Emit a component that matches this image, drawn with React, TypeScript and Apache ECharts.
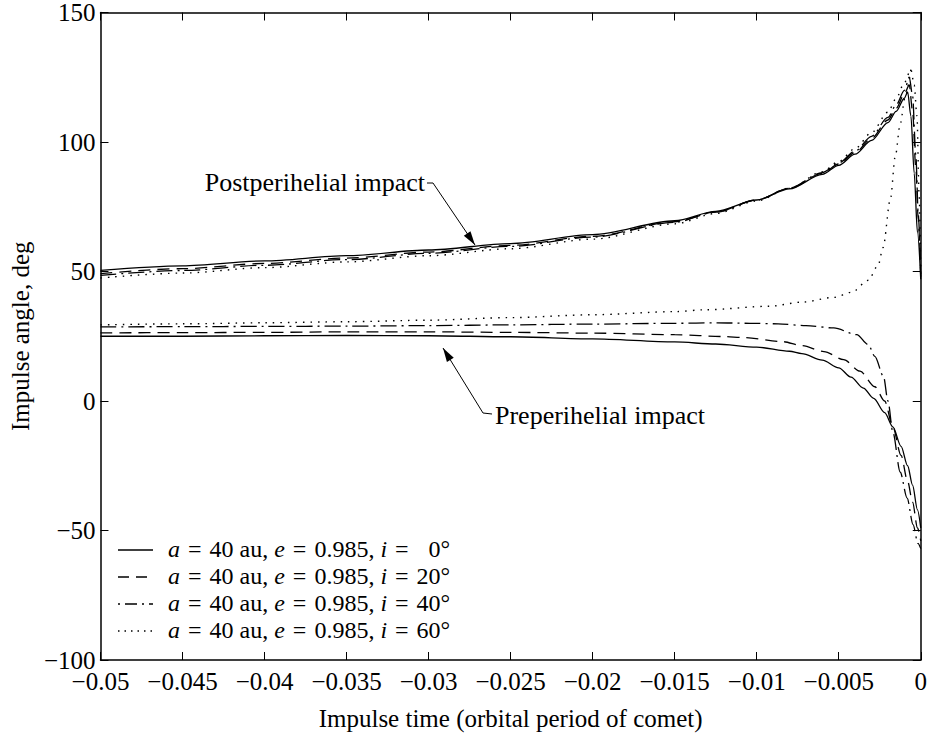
import React, { useEffect, useRef } from "react";
import * as echarts from "echarts";

const FONT = '"Liberation Serif", "Times New Roman", serif';

const inclinations = [0, 20, 40, 60];
const seriesNames = inclinations.map((i) => `a = 40 au, e = 0.985, i = ${i}°`);

// Postperihelial impact curves (upper family)
const postX_i0 = [-0.05, -0.045, -0.04, -0.035, -0.03, -0.025, -0.02, -0.015, -0.0125, -0.01, -0.008, -0.006, -0.005, -0.004, -0.003, -0.002, -0.0015, -0.001, -0.0008, -0.0006, -0.0004, -0.0002, 0];
const postY_i0 = [50.4, 52.2, 54.1, 56.1, 58.3, 60.8, 64.2, 69.6, 73.2, 77.6, 81.9, 87.5, 91.0, 95.3, 100.6, 107.5, 111.8, 116.9, 119.3, 110, 88, 65, 47];

const postX_i20 = [-0.05, -0.045, -0.04, -0.035, -0.03, -0.025, -0.02, -0.015, -0.0125, -0.01, -0.008, -0.006, -0.005, -0.004, -0.003, -0.002, -0.0015, -0.001, -0.0007, -0.0005, -0.0003, -0.00015, 0];
const postY_i20 = [49.2, 51.1, 53.1, 55.2, 57.5, 60.1, 63.6, 69.2, 73.0, 77.6, 82.1, 87.9, 91.5, 95.9, 101.4, 108.5, 113.0, 118.5, 122, 112, 90, 70, 48];

const postX_i40 = [-0.05, -0.045, -0.04, -0.035, -0.03, -0.025, -0.02, -0.015, -0.0125, -0.01, -0.008, -0.006, -0.005, -0.004, -0.003, -0.002, -0.0015, -0.001, -0.0007, -0.0005, -0.0003, -0.00015, 0];
const postY_i40 = [48.5, 50.4, 52.4, 54.6, 57.0, 59.7, 63.3, 69.0, 72.9, 77.6, 82.2, 88.2, 91.9, 96.5, 102.2, 109.5, 114.3, 119.9, 125, 118, 95, 72, 49];

const postX_i60 = [-0.05, -0.045, -0.04, -0.035, -0.03, -0.025, -0.02, -0.015, -0.0125, -0.01, -0.008, -0.006, -0.005, -0.004, -0.003, -0.002, -0.0015, -0.001, -0.0006, -0.0004, -0.00023, -0.0001, 0];
const postY_i60 = [47.5, 49.4, 51.5, 53.7, 56.1, 58.8, 62.5, 68.4, 72.4, 77.2, 82.1, 88.5, 92.5, 97.5, 103.6, 111.5, 116.8, 122.9, 128, 122, 110, 80, 50];

// Preperihelial impact curves (lower family)
const preX_i0 = [-0.05, -0.045, -0.04, -0.035, -0.03, -0.025, -0.02, -0.015, -0.0125, -0.01, -0.008, -0.00725, -0.006, -0.005, -0.00425, -0.0035, -0.00287, -0.0022, -0.0017, -0.0012, -0.0008, -0.0005, -0.0002, 0];
const preY_i0 = [25, 25, 25.2, 25.3, 25.2, 24.8, 24, 22.8, 22, 20.8, 19.2, 18.3, 15.8, 12.8, 9.2, 5, 1, -4.5, -10, -17.5, -25, -32.5, -42, -49];

const preX_i20 = [-0.05, -0.045, -0.04, -0.035, -0.03, -0.025, -0.02, -0.015, -0.012, -0.0108, -0.0084, -0.00725, -0.0059, -0.0047, -0.0037, -0.0028, -0.0022, -0.0017, -0.0012, -0.0008, -0.0005, -0.0002, 0];
const preY_i20 = [26.3, 26.4, 26.5, 26.7, 26.7, 26.5, 26.2, 25.6, 24.9, 24.5, 22.9, 21.4, 19.1, 16, 11.5, 5.5, 0, -10, -21, -31, -39, -49, -54];

const preX_i40 = [-0.05, -0.045, -0.04, -0.035, -0.03, -0.025, -0.02, -0.015, -0.0124, -0.0104, -0.0087, -0.007, -0.0053, -0.0039, -0.0032, -0.0028, -0.00227, -0.002, -0.0017, -0.00125, -0.00083, -0.00047, -0.00017, 0];
const preY_i40 = [28.6, 28.7, 28.8, 28.9, 29.1, 29.4, 29.7, 30, 30.2, 30, 29.8, 29.1, 28.2, 25.6, 21.8, 17.2, 9.5, 0, -12, -27.5, -37.5, -47.7, -55, -57];

const preX_i60 = [-0.05, -0.045, -0.04, -0.035, -0.03, -0.025, -0.02, -0.015, -0.0132, -0.0092, -0.0072, -0.0053, -0.0042, -0.0032, -0.0026, -0.0023, -0.00185, -0.00155, -0.00125, -0.00095, -0.0006];
const preY_i60 = [29.4, 29.8, 30.2, 30.6, 31.2, 32.2, 33.3, 34.5, 35.2, 36.6, 38.2, 40, 42, 46.6, 52.3, 59.2, 78, 94.6, 107, 117.5, 128];

const postCurves = [
  [postX_i0, postY_i0],
  [postX_i20, postY_i20],
  [postX_i40, postY_i40],
  [postX_i60, postY_i60],
];
const preCurves = [
  [preX_i0, preY_i0],
  [preX_i20, preY_i20],
  [preX_i40, preY_i40],
  [preX_i60, preY_i60],
];

const xMin = -0.05;
const xMax = 0;
const xInterval = 0.005;
const yMin = -100;
const yMax = 150;
const yInterval = 50;

const lineTypes: any[] = ["solid", [12, 7], [16, 5, 2, 5], [1.5, 6]];
const lineDashes: any[] = [null, [11, 7], [2, 5, 12, 5], [1.5, 5]];
const lineWidths = [1.3, 1.3, 1.3, 1.4];

const fmtNum = (v: number) => {
  const r = Math.round(v * 10000) / 10000;
  if (r === 0) return "0";
  return (r < 0 ? "\u2212" : "") + String(Math.abs(r));
};

const EQ = "\u2004=\u2004";
const legendRich = (inc: number) => {
  const incText = inc < 10 ? "\u2002" + inc : String(inc);
  return `{it|a}${EQ}40 au, {it|e}${EQ}0.985, {it|i}${EQ}${incText}°`;
};

export default function App() {
  const ref = useRef<HTMLDivElement>(null);

  useEffect(() => {
    if (!ref.current) return;
    const chart = echarts.init(ref.current, undefined, { renderer: "svg" });

    const series: any[] = [];
    inclinations.forEach((_, k) => {
      const mk = (curve: number[][]) => ({
        type: "line",
        name: seriesNames[k],
        data: curve[0].map((x, j) => [x, curve[1][j]]),
        showSymbol: false,
        symbol: "none",
        smooth: 0.3,
        smoothMonotone: "x",
        lineStyle: { color: "#000", width: lineWidths[k], type: lineTypes[k] },
        itemStyle: { color: "#000" },
        clip: true,
      });
      series.push(mk(postCurves[k]));
      series.push(mk(preCurves[k]));
    });

    const axisLineStyle = { color: "#000", width: 1.5 };
    const tickStyle = { color: "#000", width: 1 };
    const labelStyle = { color: "#000", fontSize: 25, fontFamily: FONT };

    const arrowHead = (tip: number[], from: number[], len = 14, half = 4) => {
      const dx = tip[0] - from[0];
      const dy = tip[1] - from[1];
      const L = Math.sqrt(dx * dx + dy * dy);
      const ux = dx / L;
      const uy = dy / L;
      const bx = tip[0] - ux * len;
      const by = tip[1] - uy * len;
      return {
        type: "polygon",
        shape: {
          points: [
            [tip[0], tip[1]],
            [bx - uy * half, by + ux * half],
            [bx + uy * half, by - ux * half],
          ],
        },
        style: { fill: "#000" },
        silent: true,
      };
    };

    const postTip = [475, 245];
    const postFrom = [433, 183];
    const preTip = [443, 348];
    const preFrom = [483, 413];

    // Legend, drawn as graphic elements
    const legendLeft = 118;
    const legendLineW = 35;
    const legendTextX = 168;
    const legendTop = 549;
    const legendStep = 27;
    const legendFont = 24;
    const legendEls: any[] = [];
    inclinations.forEach((inc, k) => {
      const y = legendTop + k * legendStep;
      legendEls.push({
        type: "line",
        shape: { x1: legendLeft, y1: y + 1, x2: legendLeft + legendLineW, y2: y + 1 },
        style: {
          stroke: "#000",
          lineWidth: lineWidths[k],
          lineDash: lineDashes[k] || undefined,
        },
        silent: true,
      });
      legendEls.push({
        type: "text",
        x: legendTextX,
        y: y,
        style: {
          text: legendRich(inc),
          font: `${legendFont}px ${FONT}`,
          fill: "#000",
          lineHeight: 22,
          align: "left",
          verticalAlign: "middle",
          textAlign: "left",
          textVerticalAlign: "middle",
          rich: {
            it: { fontStyle: "italic", fontSize: legendFont, fontFamily: FONT, fill: "#000", lineHeight: 22 },
          },
        },
        silent: true,
      });
    });

    const option: any = {
      animation: false,
      backgroundColor: "#fff",
      grid: { left: 87, right: 9, top: 12, bottom: 68, containLabel: false },
      xAxis: [
        {
          type: "value",
          position: "bottom",
          min: xMin,
          max: xMax,
          interval: xInterval,
          name: "Impulse time (orbital period of comet)",
          nameLocation: "middle",
          nameGap: 46,
          nameTextStyle: { color: "#000", fontSize: 25, fontFamily: FONT },
          axisLine: { show: true, onZero: false, lineStyle: axisLineStyle },
          axisTick: { show: true, inside: true, length: 8, lineStyle: tickStyle },
          axisLabel: { ...labelStyle, margin: 9, formatter: fmtNum },
          splitLine: { show: false },
        },
        {
          type: "value",
          position: "top",
          min: xMin,
          max: xMax,
          interval: xInterval,
          axisLine: { show: true, onZero: false, lineStyle: axisLineStyle },
          axisTick: { show: true, inside: true, length: 8, lineStyle: tickStyle },
          axisLabel: { show: false },
          splitLine: { show: false },
        },
      ],
      yAxis: [
        {
          type: "value",
          position: "left",
          min: yMin,
          max: yMax,
          interval: yInterval,
          name: "Impulse angle, deg",
          nameLocation: "middle",
          nameGap: 53,
          nameTextStyle: { color: "#000", fontSize: 25, fontFamily: FONT },
          axisLine: { show: true, onZero: false, lineStyle: axisLineStyle },
          axisTick: { show: true, inside: true, length: 8, lineStyle: tickStyle },
          axisLabel: { ...labelStyle, margin: 5, formatter: fmtNum },
          splitLine: { show: false },
        },
        {
          type: "value",
          position: "right",
          min: yMin,
          max: yMax,
          interval: yInterval,
          axisLine: { show: true, onZero: false, lineStyle: axisLineStyle },
          axisTick: { show: true, inside: true, length: 8, lineStyle: tickStyle },
          axisLabel: { show: false },
          splitLine: { show: false },
        },
      ],
      graphic: [
        {
          type: "text",
          x: 425,
          y: 182,
          style: {
            text: "Postperihelial impact",
            font: `26px ${FONT}`,
            fill: "#000",
            align: "right",
            verticalAlign: "middle",
            textAlign: "right",
            textVerticalAlign: "middle",
          },
          silent: true,
        },
        {
          type: "line",
          shape: { x1: 427, y1: 183, x2: postFrom[0], y2: postFrom[1] },
          style: { stroke: "#000", lineWidth: 1 },
          silent: true,
        },
        {
          type: "line",
          shape: { x1: postFrom[0], y1: postFrom[1], x2: postTip[0], y2: postTip[1] },
          style: { stroke: "#000", lineWidth: 1 },
          silent: true,
        },
        arrowHead(postTip, postFrom),
        {
          type: "text",
          x: 495,
          y: 415,
          style: {
            text: "Preperihelial impact",
            font: `26px ${FONT}`,
            fill: "#000",
            align: "left",
            verticalAlign: "middle",
            textAlign: "left",
            textVerticalAlign: "middle",
          },
          silent: true,
        },
        {
          type: "line",
          shape: { x1: 492, y1: 414, x2: preFrom[0], y2: preFrom[1] },
          style: { stroke: "#000", lineWidth: 1 },
          silent: true,
        },
        {
          type: "line",
          shape: { x1: preFrom[0], y1: preFrom[1], x2: preTip[0], y2: preTip[1] },
          style: { stroke: "#000", lineWidth: 1 },
          silent: true,
        },
        arrowHead(preTip, preFrom),
        ...legendEls,
      ],
      series,
    };

    chart.setOption(option);
    return () => {
      chart.dispose();
    };
  }, []);

  return (
    <div
      ref={ref}
      style={{ position: "fixed", left: 0, top: 0, width: 930, height: 736, background: "#fff" }}
    />
  );
}
